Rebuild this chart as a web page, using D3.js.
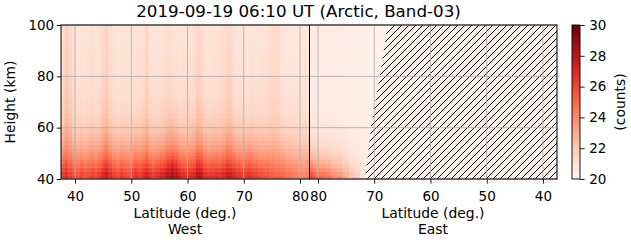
<!DOCTYPE html>
<html>
<head>
<meta charset="utf-8">
<script src="https://cdn.jsdelivr.net/npm/d3@7"></script>
<style>
  body { margin: 0; background: #fff; }
  text { font-family: "DejaVu Sans", sans-serif; fill: #000; }
</style>
</head>
<body>
<div id="chart"></div>
<script>
// ---- data ----
const titleText = "2019-09-19 06:10 UT (Arctic, Band-03)";
const latTicks = [40, 50, 60, 70, 80];
const heightTicks = [40, 60, 80, 100];
const countTicks = [20, 22, 24, 26, 28, 30];

// west columns (from 37.5 deg northwards), counts at 40 km and at 100 km
const westBottom = [26.5, 27, 26.5, 26, 25.8, 26.2, 25.8, 26, 26.4, 26, 26.5,
  27.2, 27.8, 27, 26.3, 26, 26.5, 26.2, 26, 26.3,
  26.8, 26.5, 27, 27.5, 26.8, 26.5, 26.8, 27.2, 27.6,
  28.3, 28.8, 28.4, 27.5, 27, 26.8, 27, 27.3, 28.2, 28,
  27, 26.6, 26.8, 27, 26.7, 27.2, 27.8, 27.6, 27.2,
  26.8, 26.5, 26.7, 26.9, 26.5, 26.3, 26, 25.8, 25.8, 25.5, 25.4, 25.3, 25.2,
  25, 24.8, 24.6, 24.5, 24.3, 24.2, 24.5];
const westTop = [21.2, 21.8, 21.6, 21.0, 20.9, 21.0, 20.9, 21.0, 21.1, 21.0, 21.1,
  21.4, 21.6, 21.2, 21.0, 20.9, 20.9, 21.0, 20.9, 20.9, 21.0, 21.0, 21.1,
  21.5, 21.0, 21.0, 20.9, 21.0, 21.1, 21.2, 21.1, 21.0, 20.9, 21.0, 20.9, 21.0,
  21.2, 21.5, 21.3, 21.0, 20.9, 21.0, 21.0, 21.1, 21.2, 21.4, 21.4,
  21.0, 20.9, 20.9, 20.8, 20.9, 21.0, 20.9, 20.9, 21.0, 21.1, 21.2, 21.4, 21.3,
  20.9, 20.8, 20.8, 20.8, 20.8, 20.8, 20.9, 20.8];
// east columns (from 81.6 deg southwards)
const eastBottom = [26.3, 25.6, 25.2, 25.0, 24.9, 24.8, 24.2, 24.0, 23.9, 23.2,
  23.0, 22.3, 22.0, 21.8, 21.0, 20.7, 20.4, 20.3, 20.3, 20.3, 20.3, 20.3];
const eastTop = [20.6, 20.6, 20.5, 20.5, 20.5, 20.5, 20.5, 20.5, 20.5, 20.5,
  20.4, 20.4, 20.4, 20.4, 20.4, 20.4, 20.35, 20.3, 20.3, 20.3, 20.3, 20.3];

// share of the 40 km excess that is left in each 1.5 km row
const westProfile = [1.00, 0.95, 0.86, 0.77, 0.68, 0.60, 0.53, 0.46, 0.40, 0.35,
  0.30, 0.26, 0.22, 0.19, 0.16, 0.14, 0.12, 0.10, 0.09, 0.08,
  0.07, 0.06, 0.05, 0.045, 0.04, 0.035, 0.03, 0.03, 0.025, 0.02,
  0.02, 0.015, 0.015, 0.01, 0.01, 0.005, 0.005, 0, 0, 0];
const eastProfile = [1.00, 0.88, 0.72, 0.59, 0.48, 0.39, 0.32, 0.26, 0.21, 0.17,
  0.13, 0.10, 0.08, 0.06, 0.05, 0.04, 0.03, 0.02, 0.015, 0.01,
  0.01, 0, 0, 0, 0, 0, 0, 0, 0, 0, 0, 0, 0, 0, 0, 0, 0, 0, 0, 0];

// edge of the no-data (hatched) area on the east side
const edgeHeight = [40, 50, 60, 70, 80, 90, 100];
const edgeLat = [71.6, 71.1, 70.6, 69.8, 69.0, 68.3, 67.6];

const latMin = 37.5, latMax = 81.6, colWidth = 0.649, rowHeight = 1.5;

// ---- layout ----
const W = 631, H = 243;
const plot = { left: 61, right: 557, top: 25, bottom: 179 };
const mid = 309;

const svg = d3.select("#chart").append("svg")
    .attr("width", W)
    .attr("height", H);

const xWest = d3.scaleLinear().domain([latMin, latMax]).range([plot.left, mid]);
const xEast = d3.scaleLinear().domain([latMax, latMin]).range([mid, plot.right]);
const y = d3.scaleLinear().domain([40, 100]).range([plot.bottom, plot.top]);
const color = d3.scaleSequential(d3.interpolateReds).domain([20, 30]);

// clip for the heat map
svg.append("clipPath").attr("id", "plotClip")
    .append("rect")
    .attr("x", plot.left).attr("y", plot.top)
    .attr("width", plot.right - plot.left).attr("height", plot.bottom - plot.top);

const field = svg.append("g").attr("clip-path", "url(#plotClip)");

// background of the whole area (what shows under the hatching)
field.append("rect")
    .attr("x", plot.left).attr("y", plot.top)
    .attr("width", plot.right - plot.left).attr("height", plot.bottom - plot.top)
    .attr("fill", color(20.2));

function cellsFor(bottom, top, profile, dir) {
    const cells = [];
    bottom.forEach((b, i) => {
        profile.forEach((p, k) => {
            const lat0 = dir > 0 ? latMin + i * colWidth : latMax - i * colWidth;
            cells.push({
                lat0: lat0,
                lat1: lat0 + dir * colWidth,
                h0: 40 + k * rowHeight,
                h1: 40 + (k + 1) * rowHeight,
                v: top[i] + (b - top[i]) * p
            });
        });
    });
    return cells;
}

const westCells = cellsFor(westBottom, westTop, westProfile, 1);
const eastCells = cellsFor(eastBottom, eastTop, eastProfile, -1);

field.selectAll(".west-cell")
    .data(westCells)
    .enter().append("rect")
    .attr("class", "west-cell")
    .attr("x", d => xWest(d.lat0))
    .attr("y", d => y(d.h1))
    .attr("width", d => xWest(d.lat1) - xWest(d.lat0) + 0.4)
    .attr("height", d => y(d.h0) - y(d.h1) + 0.4)
    .attr("fill", d => color(d.v));

field.selectAll(".east-cell")
    .data(eastCells)
    .enter().append("rect")
    .attr("class", "east-cell")
    .attr("x", d => xEast(d.lat0))
    .attr("y", d => y(d.h1))
    .attr("width", d => xEast(d.lat1) - xEast(d.lat0) + 0.4)
    .attr("height", d => y(d.h0) - y(d.h1) + 0.4)
    .attr("fill", d => color(d.v));

// hatched no-data area
const defs = svg.append("defs");
const pat = defs.append("pattern")
    .attr("id", "hatch")
    .attr("patternUnits", "userSpaceOnUse")
    .attr("width", 7).attr("height", 7);
pat.append("path")
    .attr("d", "M0,7 L7,0 M-1,1 L1,-1 M6,8 L8,6")
    .attr("stroke", "#000")
    .attr("stroke-width", 1);

const edgePts = edgeHeight.map((h, i) => [xEast(edgeLat[i]), y(h)]);
const hatchPoly = [...edgePts, [plot.right, plot.top], [plot.right, plot.bottom]];
field.append("path")
    .attr("d", d3.line()(hatchPoly) + "Z")
    .attr("fill", color(20.2));
field.append("path")
    .attr("d", d3.line()(hatchPoly) + "Z")
    .attr("fill", "url(#hatch)");

// grid
const grid = svg.append("g").attr("stroke", "#b0b0b0").attr("stroke-width", 0.9);
latTicks.forEach(t => {
    [xWest(t), xEast(t)].forEach(px => {
        grid.append("line")
            .attr("x1", px).attr("x2", px)
            .attr("y1", plot.top).attr("y2", plot.bottom);
    });
});
heightTicks.forEach(t => {
    grid.append("line")
        .attr("x1", plot.left).attr("x2", plot.right)
        .attr("y1", y(t)).attr("y2", y(t));
});

// divider between west and east
svg.append("line")
    .attr("x1", mid + 0.5).attr("x2", mid + 0.5)
    .attr("y1", plot.top).attr("y2", plot.bottom)
    .attr("stroke", "#000").attr("stroke-width", 1);

// axes
const tickFont = 13.5, labelFont = 13.9;
function styleAxis(g) {
    g.select(".domain").remove();
    g.selectAll("text").style("font-size", tickFont + "px")
        .style("font-family", "DejaVu Sans");
    g.selectAll("line").attr("stroke", "#000").attr("stroke-width", 0.9);
}

svg.append("g")
    .attr("transform", `translate(0,${plot.bottom})`)
    .call(d3.axisBottom(xWest).tickValues(latTicks).tickSize(4.7).tickPadding(7.8))
    .call(styleAxis);
svg.append("g")
    .attr("transform", `translate(0,${plot.bottom})`)
    .call(d3.axisBottom(xEast).tickValues(latTicks).tickSize(4.7).tickPadding(7.8))
    .call(styleAxis);
svg.append("g")
    .attr("transform", `translate(${plot.left},0)`)
    .call(d3.axisLeft(y).tickValues(heightTicks).tickSize(4.3).tickPadding(2.5))
    .call(styleAxis);

// frame
svg.append("rect")
    .attr("x", plot.left).attr("y", plot.top)
    .attr("width", plot.right - plot.left).attr("height", plot.bottom - plot.top)
    .attr("fill", "none").attr("stroke", "#000").attr("stroke-width", 1);

// labels
svg.append("text")
    .attr("x", 298.5).attr("y", 16.8)
    .attr("text-anchor", "middle")
    .style("font-size", "16.7px")
    .text(titleText);

[["West", (plot.left + mid) / 2], ["East", (mid + plot.right) / 2]].forEach(([side, cx]) => {
    svg.append("text")
        .attr("x", cx).attr("y", 217.5)
        .attr("text-anchor", "middle")
        .style("font-size", labelFont + "px")
        .text("Latitude (deg.)");
    svg.append("text")
        .attr("x", cx).attr("y", 234)
        .attr("text-anchor", "middle")
        .style("font-size", labelFont + "px")
        .text(side);
});

svg.append("text")
    .attr("transform", `translate(14.5,${(plot.top + plot.bottom) / 2}) rotate(-90)`)
    .attr("text-anchor", "middle")
    .style("font-size", labelFont + "px")
    .text("Height (km)");

// colorbar
const cb = { x: 572, w: 8 };
const cbScale = d3.scaleLinear().domain([20, 30]).range([plot.bottom, plot.top]);
const grad = defs.append("linearGradient")
    .attr("id", "cbGrad")
    .attr("x1", 0).attr("y1", 1).attr("x2", 0).attr("y2", 0);
d3.range(0, 1.0001, 0.05).forEach(t => {
    grad.append("stop")
        .attr("offset", t)
        .attr("stop-color", color(20 + 10 * t));
});
svg.append("rect")
    .attr("x", cb.x).attr("y", plot.top)
    .attr("width", cb.w).attr("height", plot.bottom - plot.top)
    .attr("fill", "url(#cbGrad)")
    .attr("stroke", "#000").attr("stroke-width", 0.9);
svg.append("g")
    .attr("transform", `translate(${cb.x + cb.w},0)`)
    .call(d3.axisRight(cbScale).tickValues(countTicks).tickSize(4.7).tickPadding(4.5))
    .call(styleAxis);
svg.append("text")
    .attr("transform", `translate(625,${(plot.top + plot.bottom) / 2}) rotate(-90)`)
    .attr("text-anchor", "middle")
    .style("font-size", labelFont + "px")
    .text("(counts)");
</script>
</body>
</html>
